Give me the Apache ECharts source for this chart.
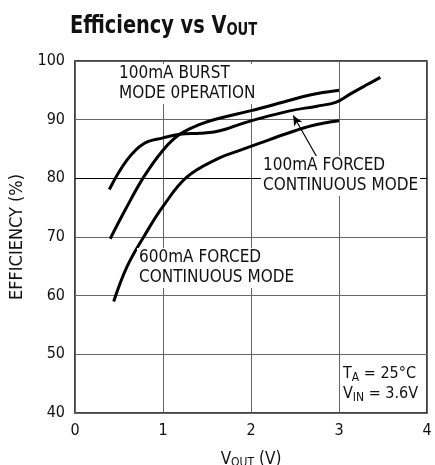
<!DOCTYPE html>
<html><head><meta charset="utf-8">
<script src="https://cdn.jsdelivr.net/npm/echarts@6/dist/echarts.min.js"></script>
<style>html,body{margin:0;padding:0;background:#fff}#c{width:435px;height:465px}</style>
</head><body><div id="c"></div>
<script>
// Data
const xTicks = [0, 1, 2, 3, 4];
const yTicks = [40, 50, 60, 70, 80, 90, 100];
const burst100 = [[0.40,69.7],[0.57,74.6],[0.78,80.2],[1.0,84.8],[1.19,87.5],[1.42,89.2],[1.63,90.2],[1.99,91.5],[2.37,93.0],[2.67,94.2],[3.0,95.0]];
const forced100 = [[0.39,78.1],[0.59,83.1],[0.78,85.9],[1.0,86.9],[1.19,87.5],[1.42,87.7],[1.58,87.9],[1.72,88.4],[1.87,89.2],[2.0,89.8],[2.44,91.5],[2.75,92.3],[2.97,93.0],[3.13,94.4],[3.31,95.9],[3.47,97.2]];
const forced600 = [[0.44,59.0],[0.59,64.9],[0.78,70.0],[1.0,75.2],[1.27,80.2],[1.63,83.4],[1.88,84.8],[2.1,86.0],[2.4,87.6],[2.7,89.0],[3.0,89.8]];
const arrowLine = [[2.75,83.6],[2.48,90.7]];

const FONT = '"Liberation Sans Narrow","DejaVu Sans Condensed","Liberation Sans",sans-serif';
const chart = echarts.init(document.getElementById('c'));
const lineSeries = (d) => ({type:'line', data:d, smooth:0.4, showSymbol:false, lineStyle:{color:'#000', width:3}, z:3});
chart.setOption({
  animation:false,
  backgroundColor:'#fff',
  grid:{left:75, top:61, right:8, bottom:52, containLabel:false, outerBoundsMode:'none', show:true, borderColor:'#000', borderWidth:1.5, backgroundColor:'transparent'},
  xAxis:{type:'value', min:0, max:4, interval:1,
    name:'{a|V}{s|OUT}{a| (V)}', nameLocation:'middle', nameGap:37,
    nameTextStyle:{rich:{a:{fontFamily:FONT,fontSize:17,color:'#111'}, s:{fontFamily:FONT,fontSize:12,color:'#111',padding:[7,0,0,0]}}},
    axisLine:{show:false}, axisTick:{show:false},
    axisLabel:{fontFamily:FONT, fontSize:16, color:'#111', margin:10, formatter:(v)=>xTicks.includes(v)?String(v):''},
    splitLine:{show:true, lineStyle:{color:'#666', width:1}}
  },
  yAxis:{type:'value', min:40, max:100, interval:10,
    name:'EFFICIENCY (%)', nameLocation:'middle', nameGap:47, nameRotate:90,
    nameTextStyle:{fontFamily:FONT, fontSize:18, color:'#111'},
    axisLine:{show:false}, axisTick:{show:false},
    axisLabel:{fontFamily:FONT, fontSize:16, color:'#111', margin:10, formatter:(v)=>yTicks.includes(v)?String(v):''},
    splitLine:{show:true, lineStyle:{color:'#666', width:1}}
  },
  series:[
    lineSeries(burst100),
    lineSeries(forced100),
    lineSeries(forced600),
    {type:'line', data:[], markLine:{silent:true, symbol:['none','none'], label:{show:false},
      lineStyle:{color:'#000', width:1.2, type:'solid'}, data:[[{coord:[0,80]},{coord:[4,80]}]]}, z:1},
    {type:'line', data:[], markLine:{silent:true, symbol:['none','arrow'], symbolSize:[7,10], label:{show:false},
      lineStyle:{color:'#000', width:1.2, type:'solid'}, data:[[{coord:arrowLine[0]},{coord:arrowLine[1]}]]}, z:6}
  ],
  graphic:[
    {type:'text', x:70, y:11, scaleX:0.86, z:10, style:{
      text:'{a|Efficiency vs V}{s|OUT}',
      rich:{a:{fontFamily:FONT, fontSize:25, fontWeight:'bold', fill:'#111', lineHeight:30},
            s:{fontFamily:FONT, fontSize:17, fontWeight:'bold', fill:'#111', padding:[10,0,0,0], lineHeight:30}}}},
    {type:'text', left:119, top:64, z:10, style:{text:'100mA BURST\nMODE 0PERATION', font:'17px '+FONT, fill:'#111', lineHeight:20, backgroundColor:'#fff'}},
    {type:'text', left:261, top:156, z:10, style:{text:'100mA FORCED\nCONTINUOUS MODE', font:'17px '+FONT, fill:'#111', lineHeight:20, backgroundColor:'#fff', padding:[0,2,0,2]}},
    {type:'text', left:137, top:248, z:10, style:{text:'600mA FORCED\nCONTINUOUS MODE', font:'17px '+FONT, fill:'#111', lineHeight:20, backgroundColor:'#fff', padding:[0,2,0,2]}},
    {type:'text', left:340, top:364, z:10, style:{
      text:'{a|T}{s|A}{a| = 25°C}\n{a|V}{s|IN}{a| = 3.6V}', backgroundColor:'#fff', padding:[0,4,0,3],
      rich:{a:{fontFamily:FONT,fontSize:16,fill:'#111',lineHeight:20}, s:{fontFamily:FONT,fontSize:12,fill:'#111',padding:[7,0,0,0],lineHeight:20}}}}
  ]
});
</script></body></html>
